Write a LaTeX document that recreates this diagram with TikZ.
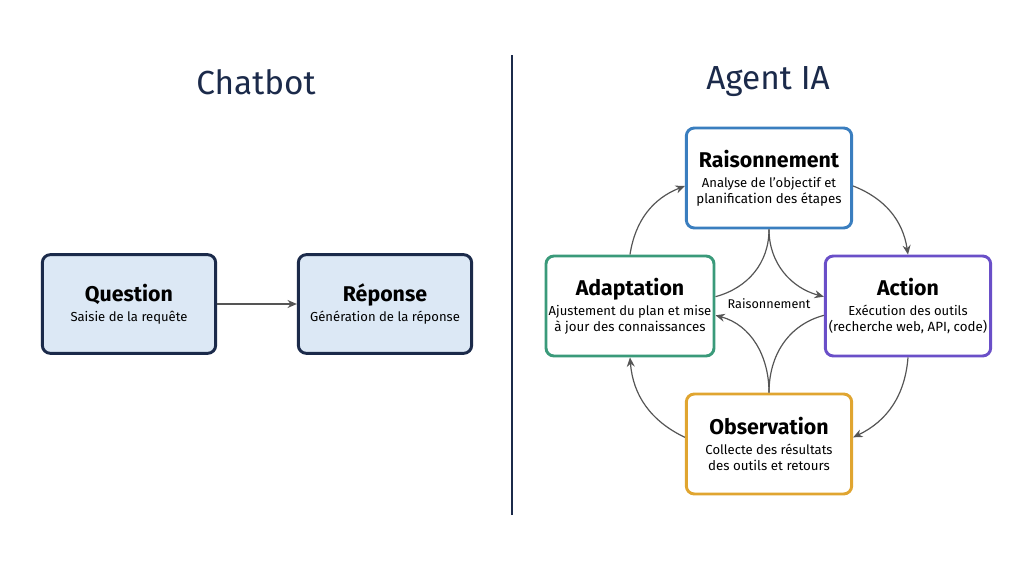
\documentclass[tikz,border=0pt]{standalone}
\usepackage{fontspec}
\setmainfont{Fira Sans}
\usetikzlibrary{arrows.meta,positioning}
\definecolor{navy}{HTML}{1B2A4A}
\definecolor{boxblue}{HTML}{DCE8F5}
\definecolor{raiscol}{HTML}{3A7EBF}
\definecolor{actcol}{HTML}{6A4FC8}
\definecolor{adacol}{HTML}{3A9A7A}
\definecolor{obscol}{HTML}{E0A530}
\definecolor{arrcol}{HTML}{555555}
\tikzset{
  chatbox/.style={draw=navy,fill=boxblue,line width=2.2pt,rounded corners=6pt,
    minimum width=130pt,minimum height=74pt,align=center,inner xsep=2pt},
  agentbox/.style={draw=#1,fill=white,line width=2.2pt,rounded corners=6pt,
    minimum width=124pt,minimum height=75pt,align=center,inner xsep=2pt},
  flow/.style={-{Stealth[length=7pt,width=6pt]},draw=arrcol,line width=0.9pt},
  plain/.style={draw=arrcol,line width=0.9pt},
  ttl/.style={text=navy,font=\fontsize{25}{28}\selectfont}
}
\newcommand\boxtext[2]{\fontsize{16}{19}\selectfont\bfseries #1\\[3pt]\fontsize{9.8}{12.5}\selectfont\mdseries #2}
\begin{document}
\begin{tikzpicture}[x=0.75pt,y=0.75pt]
\useasboundingbox (0,0) rectangle (1024,572);

  %% titles and divider
  \node[ttl] (chattitle) at (256,490) {Chatbot};
  \node[ttl] (agenttitle) at (768,490) {Agent IA};
  \draw[navy,line width=1.5pt] (512,57) -- (512,517);

  %% chatbot
  \node[chatbox] (question) at (129,268) {\boxtext{Question}{Saisie de la requête}};
  \node[chatbox] (reponse) at (385,268) {\boxtext{Réponse}{Génération de la réponse}};
  \draw[flow] (question) -- (reponse);

  %% agent
  \node[agentbox=raiscol] (rais) at (769,394) {\boxtext{Raisonnement}{Analyse de l'objectif et\\planification des étapes}};
  \node[agentbox=actcol] (action) at (908,266) {\boxtext{Action}{Exécution des outils\\(recherche web, API, code)}};
  \node[agentbox=adacol] (adapt) at (630,266) {\boxtext{Adaptation}{Ajustement du plan et mise\\à jour des connaissances}};
  \node[agentbox=obscol] (obs) at (769,128) {\boxtext{Observation}{Collecte des résultats\\des outils et retours}};

  %% outer cycle
  \draw[flow] ([yshift=-6pt]rais.east) to[bend left=30] (action.north);
  \draw[flow] (action.south) to[bend left=30] ([yshift=5pt]obs.east);
  \draw[flow] ([yshift=5pt]obs.west) to[bend left=30] (adapt.south);
  \draw[flow] (adapt.north) to[bend left=30] ([yshift=-6pt]rais.west);

  %% inner curves
  \draw[plain] (rais.south) to[out=-90,in=15] ([yshift=7pt]adapt.east);
  \draw[flow] (rais.south) to[out=-90,in=165] ([yshift=7pt]action.west);
  \draw[flow] (obs.north) to[out=90,in=-15] ([yshift=-7pt]adapt.east);
  \draw[plain] (obs.north) to[out=90,in=195] ([yshift=-7pt]action.west);
  \node[font=\fontsize{9.5}{11}\selectfont] (mid) at (769,268) {Raisonnement};

\end{tikzpicture}
\end{document}
